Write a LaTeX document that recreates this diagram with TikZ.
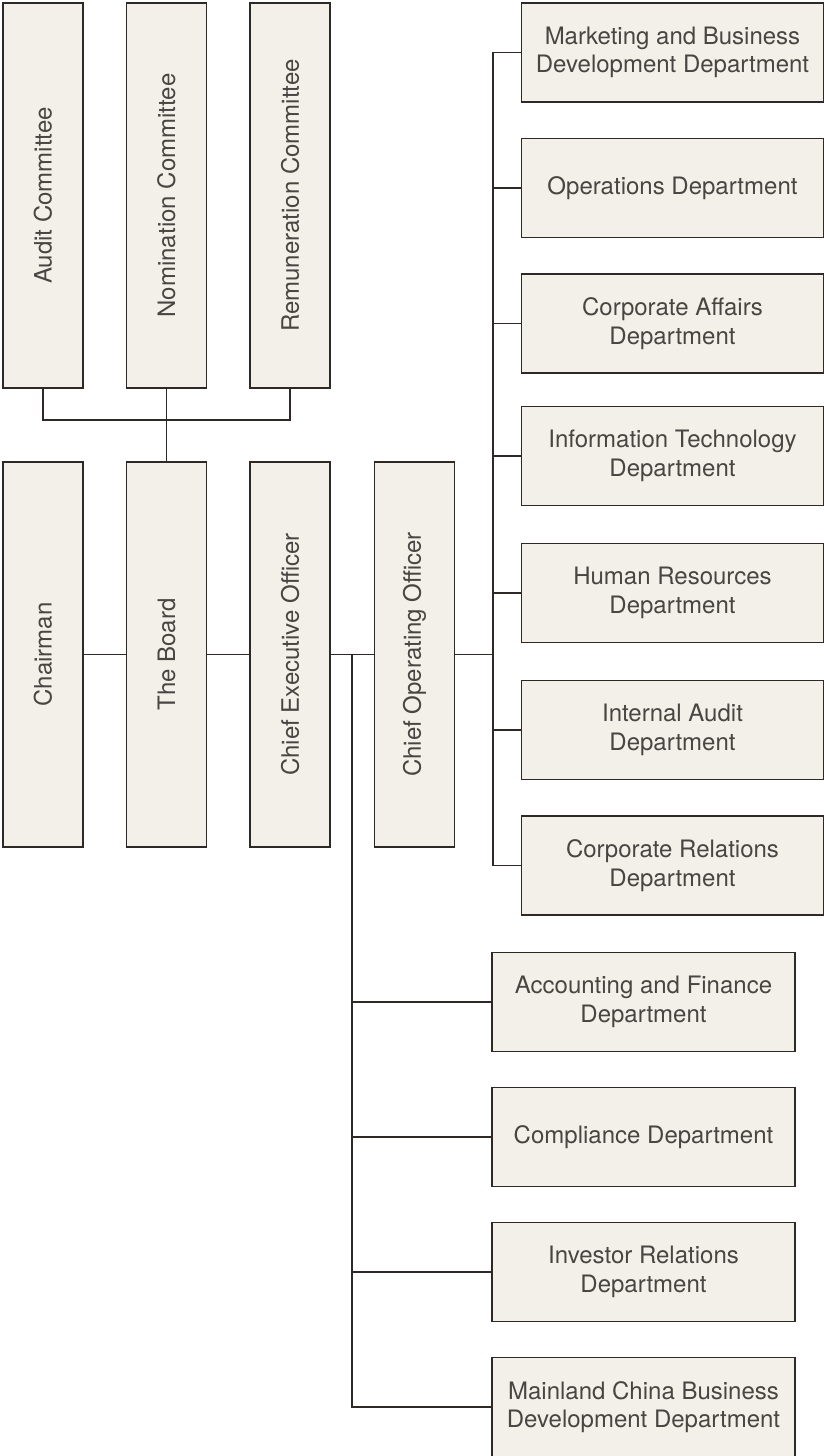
\documentclass[tikz,border=0pt]{standalone}
\usepackage{fontspec}
\setmainfont{TeX Gyre Heros}
\definecolor{boxfill}{HTML}{F3F0E9}
\definecolor{boxline}{HTML}{2E2826}
\definecolor{txt}{HTML}{4A4442}
\begin{document}
\begin{tikzpicture}[x=1pt,y=-1pt,
  every node/.style={inner sep=0pt, outer sep=0pt},
  base/.style={draw=boxline, fill=boxfill, line width=1.2pt, text=txt,
    font=\fontsize{24}{28.5}\selectfont, align=center},
  tall/.style={base, minimum width=80pt, minimum height=385pt},
  rbox/.style={base, minimum width=302pt, minimum height=99pt},
  lbox/.style={base, minimum width=303pt, minimum height=99pt},
  link/.style={draw=boxline, line width=1.2pt}]
\useasboundingbox (0,0) rectangle (824,1456);
% committees
\node[tall] (aud) at (43,195.5) {\rotatebox{90}{Audit Committee}};
\node[tall] (nom) at (166.5,195.5) {\rotatebox{90}{Nomination Committee}};
\node[tall] (rem) at (290,195.5) {\rotatebox{90}{Remuneration Committee}};
% main row
\node[tall] (chair) at (43,654.5) {\rotatebox{90}{Chairman}};
\node[tall] (board) at (166.5,654.5) {\rotatebox{90}{The Board}};
\node[tall] (ceo) at (290,654.5) {\rotatebox{90}{Chief Executive Officer}};
\node[tall] (coo) at (414.5,654.5) {\rotatebox{90}{Chief Operating Officer}};
% COO departments
\node[rbox] (mkt) at (672.5,52.5) {Marketing and Business\\Development Department};
\node[rbox] (ops) at (672.5,188) {Operations Department};
\node[rbox] (caf) at (672.5,323.5) {Corporate Affairs\\Department};
\node[rbox] (itd) at (672.5,456) {Information Technology\\Department};
\node[rbox] (hrd) at (672.5,593) {Human Resources\\Department};
\node[rbox] (iad) at (672.5,730) {Internal Audit\\Department};
\node[rbox] (crd) at (672.5,865.5) {Corporate Relations\\Department};
% CEO departments
\node[lbox] (acc) at (643.5,1002) {Accounting and Finance\\Department};
\node[lbox] (cmp) at (643.5,1137) {Compliance Department};
\node[lbox] (inv) at (643.5,1272) {Investor Relations\\Department};
\node[lbox] (mcb) at (643.5,1407) {Mainland China Business\\Development Department};
% junctions
\coordinate (jc) at (166.5,420);
\coordinate (ceoT) at (352,654.5);
\coordinate (cooT) at (493,654.5);
% connectors
\draw[link] (aud.south) |- (jc) -| (rem.south);
\draw[link] (nom.south) -- (board.north);
\draw[link] (chair.east) -- (board.west);
\draw[link] (board.east) -- (ceo.west);
\draw[link] (ceo.east) -- (coo.west);
\draw[link] (coo.east) -- (cooT);
\foreach \d in {mkt,ops,caf,itd,hrd,iad,crd}{\draw[link] (cooT) |- (\d.west);}
\foreach \d in {acc,cmp,inv,mcb}{\draw[link] (ceoT) |- (\d.west);}
\end{tikzpicture}
\end{document}
